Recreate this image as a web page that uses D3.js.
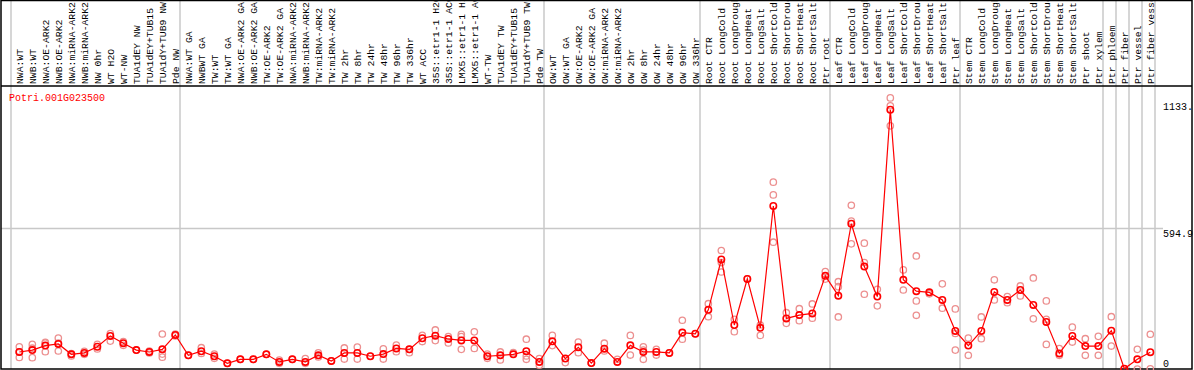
<!DOCTYPE html>
<html>
<head>
<meta charset="utf-8">
<script src="https://cdn.jsdelivr.net/npm/d3@7.9.0/dist/d3.min.js"></script>
<style>
  body { margin: 0; background: #fff; }
  svg { display: block; }
  text { font-family: "Liberation Mono", "DejaVu Sans Mono", monospace; }
</style>
</head>
<body>
<svg id="chart" width="1194" height="370"></svg>
<script>
// sample labels, left to right
const samples = [
  "NWA:WT", "NWB:WT", "NWA:OE-ARK2", "NWB:OE-ARK2", "NWA:miRNA-ARK2", "NWB:miRNA-ARK2",
  "NW 0hr", "WT H2O", "WT-NW", "TUA1dEY NW", "TUA1dEY+TUB15", "TUA1dY+TUB9 NW", "Pde NW",
  "NWA:WT GA", "NWBWT GA", "TW:WT", "TW:WT GA", "NWA:OE-ARK2 GA", "NWB:OE-ARK2 GA",
  "TW:OE-ARK2", "TW:OE-ARK2 GA", "NWA:miRNA-ARK2", "NWB:miRNA-ARK2", "TW:miRNA-ARK2", "TW:miRNA-ARK2",
  "TW 2hr", "TW 8hr", "TW 24hr", "TW 48hr", "TW 96hr", "TW 336hr", "WT ACC",
  "35S::etr1-1 H2O", "35S::etr1-1 ACC", "LMX5::etr1-1 H2O", "LMX5::etr1-1 ACC",
  "WT-TW", "TUA1dEY TW", "TUA1dEY+TUB15", "TUA1dY+TUB9 TW", "Pde TW",
  "OW:WT", "OW:WT GA", "OW:OE-ARK2", "OW:OE-ARK2 GA", "OW:miRNA-ARK2", "OW:miRNA-ARK2",
  "OW 2hr", "OW 8hr", "OW 24hr", "OW 48hr", "OW 96hr", "OW 336hr",
  "Root CTR", "Root LongCold", "Root LongDrought", "Root LongHeat", "Root LongSalt",
  "Root ShortCold", "Root ShortDrought", "Root ShortHeat", "Root ShortSalt", "Ptr root",
  "Leaf CTR", "Leaf LongCold", "Leaf LongDrought", "Leaf LongHeat", "Leaf LongSalt",
  "Leaf ShortCold", "Leaf ShortDrought", "Leaf ShortHeat", "Leaf ShortSalt", "Ptr leaf",
  "Stem CTR", "Stem LongCold", "Stem LongDrought", "Stem LongHeat", "Stem LongSalt",
  "Stem ShortCold", "Stem ShortDrought", "Stem ShortHeat", "Stem ShortSalt", "Ptr shoot",
  "Ptr xylem", "Ptr phloem", "Ptr fiber", "Ptr vessel", "Ptr fiber vessel"
];

// mean expression per sample
const means = [
  72, 80, 99, 106, 62, 68, 94, 140, 109, 80, 72, 83, 144,
  58, 75, 54, 24, 41, 41, 62, 30, 41, 30, 58, 34, 68, 68, 54, 63, 87, 83, 130,
  141, 127, 121, 121, 54, 58, 62, 75, 30,
  117, 44, 92, 25, 86, 30, 100, 72, 72, 68, 154, 149,
  250, 463, 186, 381, 174, 689, 214, 228, 235, 394,
  310, 614, 433, 306, 1096, 377, 329, 324, 292, 161,
  99, 161, 326, 292, 334, 271, 199, 66, 140, 97,
  97, 162, 1, 41, 71
];

// replicate values per sample
const replicates = [
  [94, 49, 72], [104, 48, 88], [113, 73, 110], [131, 76, 110], [65, 55], [75, 62],
  [104, 85], [150, 118], [116, 100], [80], [76, 68], [148, 63, 50], [148, 140],
  [58], [90, 66], [63, 45], [24], [41], [41], [62], [38, 24], [41], [44, 24],
  [68, 51], [34], [89, 42], [93, 42], [54], [85, 42], [101, 73], [69, 83], [142, 116],
  [165, 120], [137, 110], [147, 83, 137], [157, 87], [63, 45], [72, 38], [69],
  [126, 55, 41], [44, 16],
  [142, 99], [27], [114, 69], [25], [109, 76], [41], [142, 59], [94, 41, 80],
  [83, 59], [68], [206, 126], [149],
  [276, 221], [501, 410, 450], [210, 158], [381], [186, 142], [790, 736, 536],
  [238, 193], [255, 204], [275, 215], [412, 380],
  [369, 348, 220], [692, 529, 625], [532, 316, 450], [337, 267], [1146, 1113, 1028],
  [419, 334], [478, 288, 227], [318], [360, 257], [254, 80, 150],
  [131, 58], [220, 128], [377, 292], [306, 280], [351, 309], [385, 212],
  [288, 104, 210], [86, 58], [177, 114], [128, 58],
  [138, 58], [221, 97], [1], [83, 0], [147, 1]
];

// index of first sample in each group (last entry closes the final group)
const groupStarts = [0, 13, 41, 53, 63, 73, 84, 85, 86, 87, 88];

const tickValues = [1133, 594.9, 0];
const tickLabels = ["1133.", "594.9", "0"];
const gridValues = [594.9];
const geneName = "Potri.001G023500";

const svg = d3.select('#chart');
const W = 1194, H = 370;
const headerBottom = 86;

const x = d3.scaleLinear().domain([0, samples.length]).range([11, 1155]);
const cx = (i) => x(i + 0.64);
const y = d3.scaleLinear().domain([0, 1133]).range([369, 101]);

// gridlines
svg.selectAll('line.grid')
  .data(gridValues)
  .join('line')
  .attr('class', 'grid')
  .attr('x1', 1).attr('x2', 1163)
  .attr('y1', (d) => Math.round(y(d)) + 0.5)
  .attr('y2', (d) => Math.round(y(d)) + 0.5)
  .attr('stroke', '#c8c8c8')
  .attr('stroke-width', 1.5);

// group separators
svg.selectAll('line.sep')
  .data(groupStarts)
  .join('line')
  .attr('class', 'sep')
  .attr('x1', (d) => x(d)).attr('x2', (d) => x(d))
  .attr('y1', 0).attr('y2', 369)
  .attr('stroke', '#c8c8c8')
  .attr('stroke-width', 1.5);

// sample labels in the header
svg.selectAll('text.sample')
  .data(samples)
  .join('text')
  .attr('class', 'sample')
  .attr('transform', (d, i) => `translate(${cx(i) + 3.6},${headerBottom - 2}) rotate(-90)`)
  .attr('font-size', 9.75)
  .attr('fill', '#000')
  .text((d) => d);

// frame
svg.append('rect')
  .attr('x', 1).attr('y', 0.5)
  .attr('width', 1191).attr('height', 368.5)
  .attr('fill', 'none')
  .attr('stroke', '#000')
  .attr('stroke-width', 1.5);
svg.append('line')
  .attr('x1', 1).attr('x2', 1192)
  .attr('y1', headerBottom).attr('y2', headerBottom)
  .attr('stroke', '#000')
  .attr('stroke-width', 1.5);

// gene name
svg.append('text')
  .attr('x', 9).attr('y', 101)
  .attr('font-size', 10)
  .attr('fill', '#ff0000')
  .text(geneName);

// y tick labels
svg.selectAll('text.tick')
  .data(tickValues)
  .join('text')
  .attr('class', 'tick')
  .attr('x', 1163)
  .attr('y', (d) => d === 0 ? y(d) - 2 : y(d) + 9)
  .attr('font-size', 10)
  .attr('fill', '#000')
  .text((d, i) => tickLabels[i]);

// replicate circles
const repPoints = replicates.flatMap((reps, i) => reps.map((v) => ({ i, v })));
svg.selectAll('circle.rep')
  .data(repPoints)
  .join('circle')
  .attr('class', 'rep')
  .attr('cx', (d) => cx(d.i))
  .attr('cy', (d) => y(d.v))
  .attr('r', 3.2)
  .attr('fill', 'none')
  .attr('stroke', '#ec8f8f')
  .attr('stroke-width', 1.3);

// mean line
const line = d3.line()
  .x((d, i) => cx(i))
  .y((d) => y(d));
svg.append('path')
  .datum(means)
  .attr('d', line)
  .attr('fill', 'none')
  .attr('stroke', '#ff0000')
  .attr('stroke-width', 1.2);

// mean circles
svg.selectAll('circle.mean')
  .data(means)
  .join('circle')
  .attr('class', 'mean')
  .attr('cx', (d, i) => cx(i))
  .attr('cy', (d) => y(d))
  .attr('r', 3.2)
  .attr('fill', 'none')
  .attr('stroke', '#ff0000')
  .attr('stroke-width', 1.6);
</script>
</body>
</html>
